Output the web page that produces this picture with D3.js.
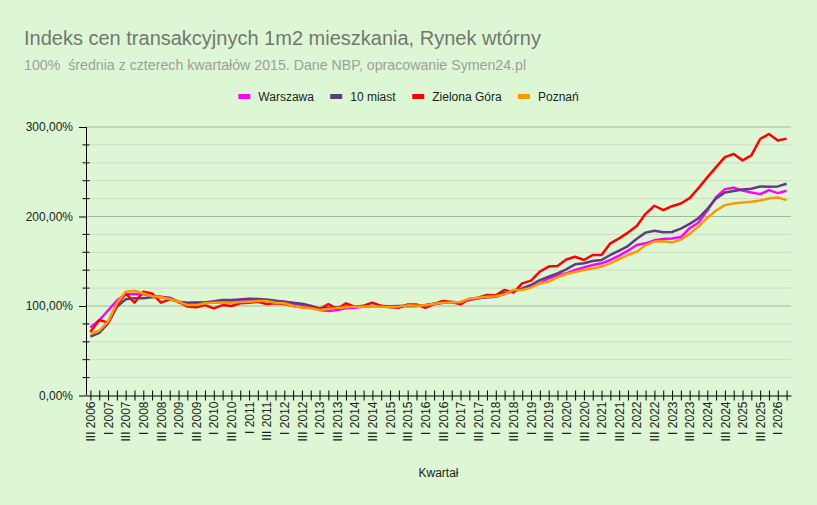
<!DOCTYPE html>
<html>
<head>
<meta charset="utf-8">
<script src="https://cdn.jsdelivr.net/npm/d3@7"></script>
<style>
  html, body { margin: 0; padding: 0; background: #ddf7d4; }
  svg { display: block; font-family: "Liberation Sans", Arial, sans-serif; }
</style>
</head>
<body>
<svg id="chart" width="817" height="505"></svg>
<script>
// quarter labels, III 2006 .. II 2026
var romans = ['I', 'II', 'III', 'IV'];
var quarters = [];
for (var yr = 2006; yr <= 2026; yr++) {
    romans.forEach(function(r) { quarters.push(r + ' ' + yr); });
}
quarters = quarters.slice(2, 82);

var warszawa = [76, 84, 95, 106, 113, 113.4, 113, 111.5, 110, 109,
    104, 103, 103.7, 103.7, 104.8, 106, 106, 106.7, 107.4, 106.7,
    106, 105.6, 104.8, 103, 100, 98, 95.5, 94.4, 95.5, 97.4,
    98, 99.3, 100, 100, 99.3, 99.3, 100.4, 100, 100.7, 102.2,
    103.7, 104, 104.5, 106.7, 108.6, 110, 110.4, 113.5, 116.8, 118.6,
    121.6, 125.3, 131, 134, 136.5, 140.2, 143.2, 145.8, 147.7, 151.4,
    156.2, 161.8, 168.2, 170, 173.4, 174.8, 175.5, 177, 186.9, 193.3,
    206.7, 221.6, 230.6, 232.1, 229.1, 226.9, 225, 229.5, 226.1, 228.7];

var miast10 = [65.7, 70, 80.6, 99, 107.5, 108.6, 108.6, 109.7, 110.4, 109,
    104.8, 103.7, 104, 104, 105.2, 106.7, 106.7, 107.4, 108.2, 107.8,
    107.4, 106, 104.8, 103.7, 102.5, 100.4, 97.4, 98, 98.5, 99.3,
    99.3, 100, 100, 100, 99.6, 100, 100.4, 100, 101, 102.6,
    103.7, 104.5, 104, 107.4, 108.6, 109.7, 110.4, 114.5, 116.6, 119.7,
    123.5, 129, 132.8, 136.5, 141, 146.6, 147.7, 150.3, 151.4, 157,
    161.8, 167, 175.2, 182, 184, 182.5, 182.7, 186.5, 191.8, 198.1,
    208.2, 220.1, 226.9, 228.4, 230.2, 231, 233.6, 233.2, 233.6, 236.6];

var zielonaGora = [71, 84.4, 81.4, 101, 114, 103.7, 116, 114, 103.7, 107.4,
    104.8, 99.3, 98.5, 101, 97.4, 101, 100, 103, 103.7, 104.8,
    102.2, 103, 102.2, 100, 98.5, 98, 96.3, 102.2, 96.6, 103,
    99.3, 100.4, 103.7, 100, 98.5, 98, 101.8, 101.8, 98, 102.2,
    105.6, 104.5, 101.8, 107.8, 109.3, 112.3, 112, 118, 115, 125.3,
    128.3, 138.4, 144, 144.7, 152, 155, 151.4, 157, 157, 170,
    175.6, 182, 189.4, 203, 212, 207, 211.5, 214.5, 220.5, 231.7,
    243.7, 255.2, 266.4, 269.8, 262.7, 268.3, 286.6, 292.2, 285, 287];

var poznan = [69, 72.4, 82.5, 103, 116, 117, 114, 111, 109.7, 107.8,
    104.8, 101, 101, 103, 103.7, 104, 103.7, 104.5, 104.8, 105.6,
    105.6, 103.7, 103, 100, 98.5, 97.4, 95.5, 96.6, 97.8, 98.5,
    99.3, 99.3, 100, 99.3, 99, 99.3, 100.7, 100.4, 100.7, 102.6,
    103.7, 104, 104.5, 108.2, 109.3, 110.4, 111, 113, 117.9, 117.9,
    120.5, 125.3, 127.2, 132, 135.8, 138, 140.2, 142, 144, 147.7,
    152.5, 157, 160.7, 168, 172, 172.3, 171, 174.2, 180.6, 188.8,
    198.5, 206.7, 212.7, 214.6, 215.7, 216.4, 217.9, 220.1, 221.3, 218.3];

var seriesNames = ['Warszawa', '10 miast', 'Zielona Góra', 'Poznań'];
var seriesColors = ['#ff00ff', '#5e3c80', '#ff0000', '#ff9900'];
var seriesValues = [warszawa, miast10, zielonaGora, poznan];

var yMajorTicks = [0, 100, 200, 300];
var yMinorTicks = d3.range(0, 301, 20);

var svg = d3.select('#chart');
var margin = {left: 86, right: 26, top: 127, bottom: 109.5};
var width = 817, height = 505;

var x = d3.scalePoint()
    .domain(quarters)
    .range([margin.left, width - margin.right])
    .padding(0.5);

var y = d3.scaleLinear()
    .domain([0, 300])
    .range([height - margin.bottom, margin.top]);

// background
svg.append('rect')
    .attr('width', width).attr('height', height)
    .attr('fill', '#ddf7d4');

// title + subtitle
svg.append('text')
    .attr('x', 24).attr('y', 45)
    .attr('fill', '#757575')
    .style('font-size', '20px')
    .text('Indeks cen transakcyjnych 1m2 mieszkania, Rynek wtórny');
svg.append('text')
    .attr('x', 24).attr('y', 70)
    .attr('fill', '#9e9e9e')
    .style('font-size', '14.2px')
    .style('white-space', 'pre')
    .text('100%  średnia z czterech kwartałów 2015. Dane NBP, opracowanie Symen24.pl');

// grid lines
var grid = svg.append('g');
grid.selectAll('line.minor')
    .data(yMinorTicks.filter(function(d) { return d % 100 !== 0; }))
    .enter().append('line')
    .attr('x1', margin.left).attr('x2', width - margin.right)
    .attr('y1', function(d) { return y(d); })
    .attr('y2', function(d) { return y(d); })
    .attr('stroke', '#cfd9ca').attr('stroke-width', 1);
grid.selectAll('line.major')
    .data(yMajorTicks.filter(function(d) { return d > 0; }))
    .enter().append('line')
    .attr('x1', margin.left).attr('x2', width - margin.right)
    .attr('y1', function(d) { return y(d); })
    .attr('y2', function(d) { return y(d); })
    .attr('stroke', '#a3b99d').attr('stroke-width', 1);

// y axis
var yAxis = svg.append('g')
    .attr('transform', 'translate(' + margin.left + ',0)')
    .call(d3.axisLeft(y)
        .tickValues(yMajorTicks)
        .tickSize(7)
        .tickPadding(6)
        .tickFormat(function(d) { return d3.format('.2f')(d).replace('.', ',') + '%'; }));
yAxis.selectAll('text').style('font-size', '12px').attr('fill', '#222');
yAxis.selectAll('line, path').attr('stroke', '#000');
yAxis.select('.domain').attr('d', 'M0.5,' + y(0) + 'V' + y(300));

// minor y ticks cross the axis
svg.append('g').selectAll('line')
    .data(yMinorTicks.filter(function(d) { return d % 100 !== 0; }))
    .enter().append('line')
    .attr('x1', margin.left - 3.5).attr('x2', margin.left + 3.5)
    .attr('y1', function(d) { return y(d); })
    .attr('y2', function(d) { return y(d); })
    .attr('stroke', '#000');

// x axis
var xAxis = svg.append('g')
    .attr('transform', 'translate(0,' + y(0) + ')')
    .call(d3.axisBottom(x)
        .tickSizeInner(5)
        .tickSizeOuter(0)
        .tickPadding(6)
        .tickFormat(function(d, i) { return i % 2 === 0 ? d : ''; }));
xAxis.selectAll('line, path').attr('stroke', '#000');
xAxis.selectAll('.tick line').attr('y1', -5);
xAxis.selectAll('text')
    .style('font-size', '12px')
    .attr('fill', '#222')
    .attr('text-anchor', 'end')
    .attr('dy', '0.35em')
    .attr('transform', 'translate(0,6) rotate(-90)')
    .attr('x', 0).attr('y', 0);

// axis title
svg.append('text')
    .attr('x', (margin.left + width - margin.right) / 2)
    .attr('y', 477)
    .attr('text-anchor', 'middle')
    .attr('fill', '#222')
    .style('font-size', '12px')
    .text('Kwartał');

// lines
var line = d3.line()
    .x(function(d, i) { return x(quarters[i]); })
    .y(function(d) { return y(d); });

svg.append('g').selectAll('path')
    .data(seriesValues)
    .enter().append('path')
    .attr('d', line)
    .attr('fill', 'none')
    .attr('stroke', function(d, i) { return seriesColors[i]; })
    .attr('stroke-width', 2.5)
    .attr('stroke-linejoin', 'round');

// legend, centered on the page
var legend = svg.append('g');
var items = legend.selectAll('g')
    .data(seriesNames)
    .enter().append('g');
items.append('rect')
    .attr('y', 94).attr('width', 12).attr('height', 5)
    .attr('fill', function(d, i) { return seriesColors[i]; });
items.append('text')
    .attr('x', 20).attr('y', 101)
    .attr('fill', '#222')
    .style('font-size', '12px')
    .text(function(d) { return d; });

var offset = 0, gap = 16;
items.each(function() {
    var w = this.getBBox().width;
    d3.select(this).attr('transform', 'translate(' + offset + ',0)');
    offset += w + gap;
});
offset -= gap;
legend.attr('transform', 'translate(' + ((width - offset) / 2) + ',0)');
</script>
</body>
</html>
